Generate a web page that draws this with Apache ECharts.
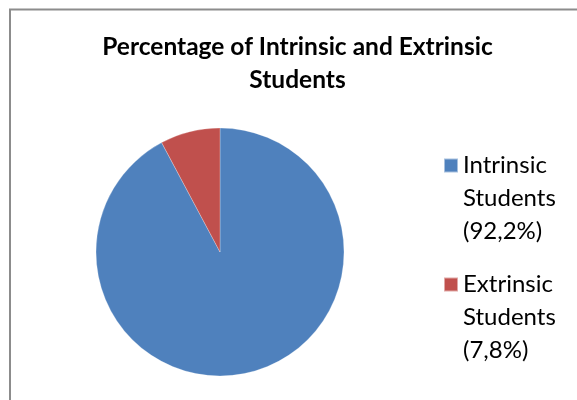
<!DOCTYPE html>
<html>
<head>
<meta charset="utf-8">
<script src="https://cdn.jsdelivr.net/npm/echarts@6/dist/echarts.min.js"></script>
<style>
html,body{margin:0;padding:0;background:#fff;}
#chart{width:577px;height:400px;}
</style>
</head>
<body>
<div id="chart"></div>
<script>
const titleText = 'Percentage of Intrinsic and Extrinsic\nStudents';
const categories = ['Intrinsic Students', 'Extrinsic Students'];
const legendLabels = ['Intrinsic\nStudents\n(92,2%)', 'Extrinsic\nStudents\n(7,8%)'];
const values = [92.2, 7.8];
const colors = ['#4F81BD', '#C0504D'];

const chart = echarts.init(document.getElementById('chart'), null, {renderer: 'canvas'});
const labelMap = {};
categories.forEach((c, i) => labelMap[c] = legendLabels[i]);

chart.setOption({
  animation: false,
  backgroundColor: '#fff',
  title: {
    text: titleText,
    left: 292.5,
    top: 26,
    padding: 5,
    textAlign: 'center',
    textStyle: {
      fontFamily: 'Lato',
      fontWeight: 'bold',
      fontSize: 24.5,
      lineHeight: 33,
      color: '#000'
    }
  },
  legend: {
    orient: 'vertical',
    left: 443,
    top: 148,
    padding: 0,
    height: 250,
    itemWidth: 14,
    itemHeight: 99,
    itemGap: 18,
    icon: 'path://M0,9.5L14,9.5L14,23.5L0,23.5Z M0,0L0.01,0 M0,99L0.01,99',
    data: categories,
    formatter: name => labelMap[name],
    textStyle: {
      fontFamily: 'Lato',
      fontSize: 24,
      lineHeight: 33,
      color: '#000'
    }
  },
  graphic: [
    { type: 'line', silent: true, shape: {x1: 9, y1: 9.5, x2: 577, y2: 9.5}, style: {stroke: '#8c8c8c', lineWidth: 2} },
    { type: 'line', silent: true, shape: {x1: 10, y1: 9, x2: 10, y2: 400}, style: {stroke: '#8c8c8c', lineWidth: 2} }
  ],
  series: [{
    type: 'pie',
    center: [220, 252],
    radius: [0, 124],
    startAngle: 90,
    clockwise: true,
    label: {show: false},
    labelLine: {show: false},
    emphasis: {disabled: true},
    itemStyle: {borderColor: 'rgba(255,255,255,0.5)', borderWidth: 0.5},
    data: categories.map((c, i) => ({name: c, value: values[i], itemStyle: {color: colors[i]}}))
  }]
});
</script>
</body>
</html>
